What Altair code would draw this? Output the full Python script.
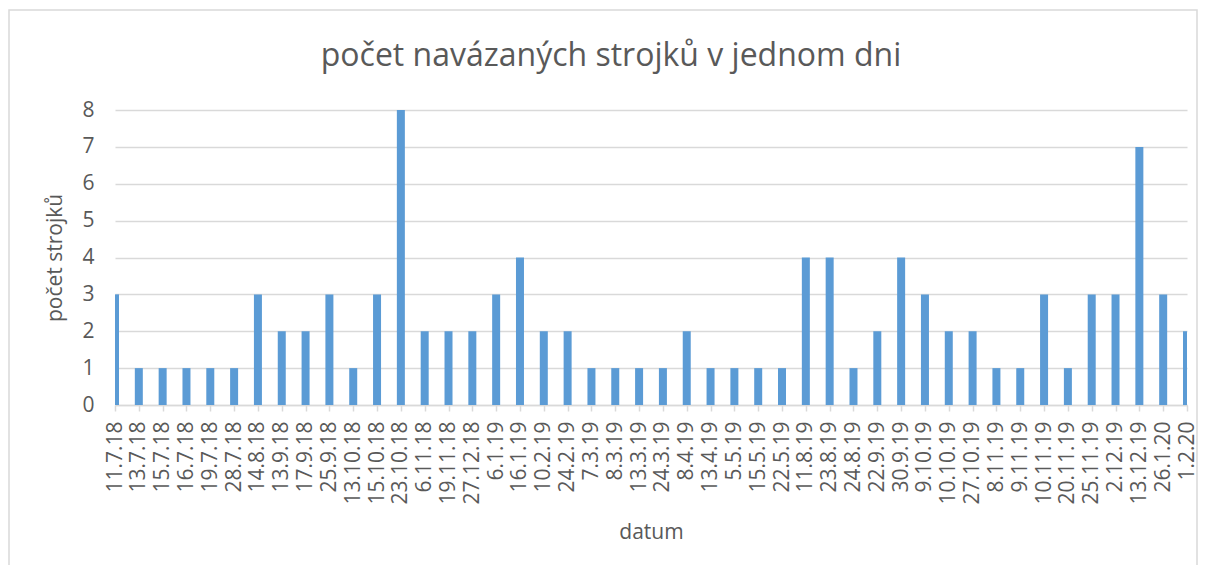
import altair as alt
import pandas as pd

datum = ["11.7.18", "13.7.18", "15.7.18", "16.7.18", "19.7.18", "28.7.18", "14.8.18",
         "13.9.18", "17.9.18", "25.9.18", "13.10.18", "15.10.18", "23.10.18", "6.11.18",
         "19.11.18", "27.12.18", "6.1.19", "16.1.19", "10.2.19", "24.2.19", "7.3.19",
         "8.3.19", "13.3.19", "24.3.19", "8.4.19", "13.4.19", "5.5.19", "15.5.19",
         "22.5.19", "11.8.19", "23.8.19", "24.8.19", "22.9.19", "30.9.19", "9.10.19",
         "10.10.19", "27.10.19", "8.11.19", "9.11.19", "10.11.19", "20.11.19", "25.11.19",
         "2.12.19", "13.12.19", "26.1.20", "1.2.20"]
pocet = [3, 1, 1, 1, 1, 1, 3, 2, 2, 3, 1, 3, 8, 2, 2, 2, 3, 4, 2, 2, 1, 1, 1, 1, 2, 1,
         1, 1, 1, 4, 4, 1, 2, 4, 3, 2, 2, 1, 1, 3, 1, 3, 3, 7, 3, 2]

df = pd.DataFrame({"datum": datum, "pocet": pocet})

FONT = "Open Sans"
GREY = "#595959"

border = alt.Chart(pd.DataFrame({"a": [0]})).mark_rect(
    fill=None, stroke="#d9d9d9", strokeWidth=1.5, clip=False
).encode(
    x=alt.value(-106), x2=alt.value(1082),
    y=alt.value(-100), y2=alt.value(460),
)

bars = alt.Chart(df).mark_bar(size=8, color="#5b9bd5", clip=True).encode(
    x=alt.X("datum:N", sort=datum, title="datum",
            scale=alt.Scale(type="point", padding=0),
            axis=alt.Axis(labelAngle=-90, labelOverlap=False, labelFontSize=21,
                          labelColor=GREY, labelFont=FONT, titleFont=FONT,
                          titleFontSize=21, titleFontWeight="normal", titleColor=GREY,
                          titlePadding=17, domainColor="#d9d9d9", domainWidth=1.5,
                          tickColor="#d9d9d9", tickWidth=1.5, tickSize=6,
                          labelPadding=10, grid=False)),
    y=alt.Y("pocet:Q", title="počet strojků",
            scale=alt.Scale(domain=[0, 8], nice=False),
            axis=alt.Axis(values=list(range(9)), labelFontSize=21, labelColor=GREY,
                          labelFont=FONT, titleFont=FONT, titleFontSize=21,
                          titleFontWeight="normal", titleColor=GREY, titlePadding=16,
                          domain=False, ticks=False, labelPadding=21,
                          gridColor="#d9d9d9", gridWidth=1.5)),
)

chart = alt.layer(border, bars).properties(
    width=1072, height=295,
    title=alt.TitleParams("počet navázaných strojků v jednom dni", font=FONT,
                          fontSize=32, fontWeight="normal", color=GREY,
                          anchor="middle", dx=-40, offset=-89, baseline="alphabetic"),
    autosize=alt.AutoSizeParams(type="none"),
    padding={"left": 107, "top": 102, "right": 11, "bottom": 160},
).configure_view(stroke=None)

chart.save("out.html", embed_options={"renderer": "svg", "actions": False})
